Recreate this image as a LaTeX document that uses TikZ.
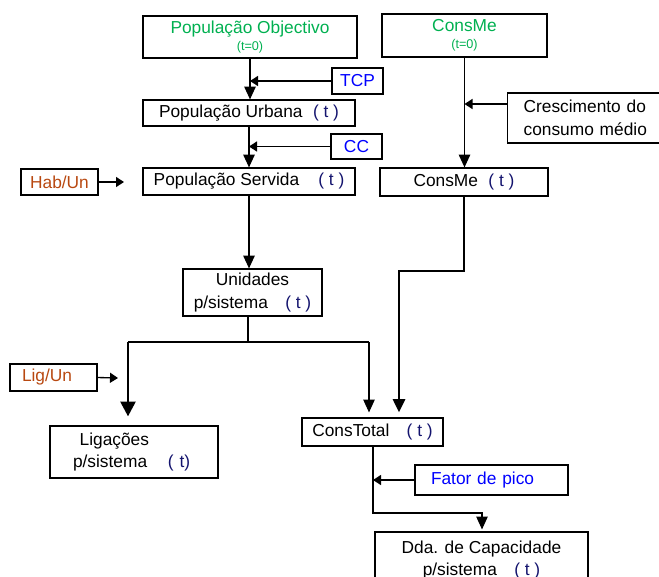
\documentclass[tikz,border=0pt]{standalone}
\usepackage{fontspec}
\setmainfont{Liberation Sans}
\usetikzlibrary{%
  arrows.meta,
  calc
}
\definecolor{verdeobj}{RGB}{0,176,80}
\definecolor{azulpar}{RGB}{0,0,255}
\definecolor{castanho}{RGB}{184,72,16}
\definecolor{azult}{RGB}{20,20,110}
\newcommand{\tempo}[1][0.6em]{\hspace{#1}{\color{azult}( t )}}
\newcommand{\pequeno}{\fontsize{9.5}{11}\selectfont}

\begin{document}
\begin{tikzpicture}[x=0.75pt, y=-0.75pt,
    caixa/.style={draw, line width=0.9pt, inner sep=0pt, align=center,
      font=\fontsize{13}{17}\selectfont},
    seta/.style={-{Triangle[length=9.5pt,width=8.5pt]}, line width=1pt},
    setalat/.style={-{Triangle[length=6pt,width=7.5pt]}, line width=1pt},
    grossa/.style={line width=2.2pt}]
    \useasboundingbox (0,0) rectangle (659,576);

    %Caixas
    \node[caixa, minimum width=160.5pt, minimum height=31.5pt, text=verdeobj] (popobj) at (250,37)
      {População Objectivo\\[-4.5pt]{\pequeno (t=0)}};
    \node[caixa, minimum width=123.75pt, minimum height=32.25pt, text=verdeobj] (consme0) at (464.5,35.5)
      {ConsMe\\[-4pt]{\pequeno (t=0)}};
    \node[caixa, minimum width=38.25pt, minimum height=19.5pt, text=azulpar] (tcp) at (357.5,81) {TCP};
    \node[caixa, minimum width=159pt, minimum height=19.5pt] (popurb) at (249,113)
      {População Urbana\tempo};
    \node[caixa, anchor=west, text width=117pt, inner xsep=12pt, align=left, minimum height=37.5pt] (cresc) at (507,118)
      {Crescimento do\\consumo médio};
    \node[caixa, minimum width=38.25pt, minimum height=18.75pt, text=azulpar] (cc) at (356.5,146.5) {CC};
    \node[caixa, minimum width=57.75pt, minimum height=19.5pt, text=castanho] (habun) at (59.5,182) {Hab/Un};
    \node[caixa, minimum width=159pt, minimum height=20.25pt] (popserv) at (249,181.5)
      {População Servida\tempo[1.1em]};
    \node[caixa, minimum width=126pt, minimum height=21pt] (consmet) at (464,182)
      {ConsMe\tempo};
    \node[caixa, minimum width=104.25pt, minimum height=35.25pt] (unid) at (252.5,292.5)
      {Unidades\\p/sistema\tempo[1em]};
    \node[caixa, text width=47.25pt, inner xsep=9pt, align=left, minimum height=20.25pt, text=castanho] (ligun) at (53.5,377.5)
      {Lig/Un};
    \node[caixa, text width=91.5pt, inner xsep=17.25pt, align=left, minimum height=39pt] (lig) at (134,452)
      {\hspace*{5pt}Ligações\\p/sistema\hspace{1.2em}{\color{azult}( t)}};
    \node[caixa, minimum width=105.75pt, minimum height=21pt] (constotal) at (372.5,432)
      {ConsTotal\tempo[1em]};
    \node[caixa, text width=90.75pt, inner xsep=12pt, align=left, minimum height=22.5pt, text=azulpar] (fator) at (491.5,480)
      {Fator de pico};
    \node[caixa, minimum width=159.75pt, minimum height=42pt] (dda) at (481.5,560)
      {Dda. de Capacidade\\p/sistema\tempo[1em]};

    %Pontos
    \coordinate (habfim) at (124,182);
    \coordinate (ligfim) at (118,378);
    \coordinate (ramo) at (248,342);
    \coordinate (ramoesq) at (128,342);
    \coordinate (ramodir) at (369,342);
    \coordinate (desvio) at (399,271);
    \coordinate (cotovelo) at (373,513);
    \coordinate (cotovelo2) at (482,513);

    %Ligacoes
    \draw[seta] (popobj.south) -- (popobj.south |- popurb.north);
    \draw[setalat] (tcp.west) -- (tcp.west -| popobj.south);
    \draw[seta] (popurb.south) -- (popserv.north);
    \draw[setalat] (cc.west) -- (cc.west -| popurb.south);
    \draw[setalat] (habun.east) -- (habfim);
    \draw[seta] (consme0.south) -- (consme0.south |- consmet.north);
    \draw[setalat] ([yshift=10.5pt]cresc.west) -- ([yshift=10.5pt]cresc.west -| consme0.south);
    \draw[seta] (popserv.south) -- (popserv.south |- unid.north);
    \draw[line width=0.8pt] (unid.south -| ramo) -- (ramo);
    \draw[grossa] (ramoesq) -- (ramodir);
    \draw[grossa, -{Triangle[length=11pt,width=11pt]}, shorten >=6.75pt] (ramoesq) -- (ramoesq |- lig.north);
    \draw[seta, line width=0.8pt, shorten >=3.75pt] (ramodir) -- (ramodir |- constotal.north);
    \draw[grossa, -{Triangle[length=10pt,width=9pt]}, shorten >=3.75pt] (consmet.south) -- (consmet.south |- desvio)
      -- (desvio) -- (desvio |- constotal.north);
    \draw[setalat] (ligun.east) -- (ligfim);
    \draw[seta, line width=0.8pt, shorten >=1.5pt] (constotal.south -| cotovelo) -- (cotovelo) -- (cotovelo2) -- (cotovelo2 |- dda.north);
    \draw[setalat] (fator.west) -- (fator.west -| cotovelo);

\end{tikzpicture}
\end{document}
